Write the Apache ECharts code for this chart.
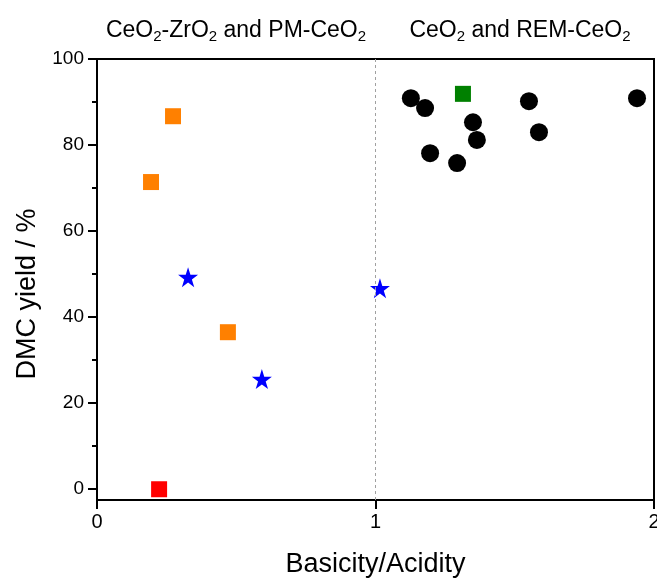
<!DOCTYPE html>
<html>
<head>
<meta charset="utf-8">
<script src="https://cdn.jsdelivr.net/npm/echarts@6/dist/echarts.min.js"></script>
<style>
  html, body { margin: 0; padding: 0; background: #fff; }
  #chart { width: 657px; height: 579px; }
</style>
</head>
<body>
<div id="chart"></div>
<script>
// Basicity/Acidity ratio (x) vs DMC yield in % (y), one array pair per catalyst group
const ceZrX = [0.273, 0.194, 0.470];
const ceZrY = [86.7, 71.4, 36.5];
const ceZrRefX = [0.223];
const ceZrRefY = [0.0];
const pmX = [0.327, 0.592, 1.016];
const pmY = [49.3, 25.6, 46.7];
const ceO2X = [1.314];
const ceO2Y = [91.9];
const remX = [1.127, 1.178, 1.196, 1.293, 1.350, 1.364, 1.551, 1.587, 1.939];
const remY = [90.9, 88.6, 78.1, 75.8, 85.3, 81.2, 90.2, 83.0, 90.9];

const xTicks = [0, 1, 2];
const yMajorTicks = [0, 20, 40, 60, 80, 100];
const yMinorTicks = [10, 30, 50, 70, 90];

const FONT = '"Liberation Sans", Arial, sans-serif';
const STAR = 'path://M50,0 L61.8,36.2 L100,36.2 L69.1,58.8 L80.9,95.1 L50,72.7 L19.1,95.1 L30.9,58.8 L0,36.2 L38.2,36.2 Z';

function pairs(xs, ys) { return xs.map((x, i) => [x, ys[i]]); }

const chart = echarts.init(document.getElementById('chart'), null, { renderer: 'canvas' });

const subRich = {
  n: { fontSize: 23, fontFamily: FONT, color: '#000', lineHeight: 26 },
  s: { fontSize: 15, fontFamily: FONT, color: '#000', lineHeight: 4, verticalAlign: 'bottom' }
};

chart.setOption({
  animation: false,
  backgroundColor: '#fff',
  grid: {
    left: 97, right: 3, top: 59, bottom: 79,
    containLabel: false, outerBoundsMode: 'none',
    show: true, borderColor: '#000', borderWidth: 2, backgroundColor: 'transparent'
  },
  xAxis: {
    type: 'value', min: 0, max: 2, interval: 1,
    customValues: xTicks,
    name: 'Basicity/Acidity', nameLocation: 'middle', nameGap: 51,
    nameTextStyle: { fontSize: 27, fontFamily: FONT, color: '#000' },
    axisLine: { show: true, onZero: false, lineStyle: { color: '#000', width: 2 } },
    axisTick: { show: true, inside: false, length: 9, lineStyle: { color: '#000', width: 2 } },
    axisLabel: { fontSize: 20, fontFamily: FONT, color: '#000', margin: 12 },
    splitLine: { show: false }
  },
  yAxis: [
    {
      type: 'value', min: -2.5, max: 100,
      axisLine: { show: true, onZero: false, lineStyle: { color: '#000', width: 2 } },
      axisTick: { show: true, inside: false, length: 9, customValues: yMajorTicks, lineStyle: { color: '#000', width: 2 } },
      axisLabel: { fontSize: 19, fontFamily: FONT, color: '#000', margin: 13, customValues: yMajorTicks },
      splitLine: { show: false }
    },
    {
      type: 'value', min: -2.5, max: 100, position: 'left',
      axisLine: { show: false },
      axisTick: { show: true, inside: false, length: 5, customValues: yMinorTicks, lineStyle: { color: '#000', width: 2 } },
      axisLabel: { show: false },
      splitLine: { show: false }
    }
  ],
  graphic: [
    {
      type: 'text',
      style: {
        x: 236, y: 31, align: 'center', verticalAlign: 'middle',
        text: '{n|CeO}{s|2}{n|-ZrO}{s|2}{n| and PM-CeO}{s|2}', rich: subRich
      }
    },
    {
      type: 'text',
      style: {
        x: 520, y: 31, align: 'center', verticalAlign: 'middle',
        text: '{n|CeO}{s|2}{n| and REM-CeO}{s|2}', rich: subRich
      }
    },
    {
      type: 'text', x: 28, y: 294, rotation: Math.PI / 2,
      style: {
        text: 'DMC yield / %', align: 'center', verticalAlign: 'middle',
        fontSize: 27, fontFamily: FONT, fill: '#000'
      }
    }
  ],
  series: [
    {
      type: 'scatter', name: 'CeO2-ZrO2', symbol: 'rect', symbolSize: 16,
      itemStyle: { color: '#FF8000', opacity: 1 }, data: pairs(ceZrX, ceZrY),
      markLine: {
        silent: true, symbol: 'none', label: { show: false },
        lineStyle: { color: '#a0a0a0', type: [3, 3], width: 1 },
        data: [{ xAxis: 1 }]
      }
    },
    {
      type: 'scatter', name: 'ZrO2', symbol: 'rect', symbolSize: 16,
      itemStyle: { color: '#FF0000', opacity: 1 }, data: pairs(ceZrRefX, ceZrRefY)
    },
    {
      type: 'scatter', name: 'PM-CeO2', symbol: STAR, symbolSize: 20,
      itemStyle: { color: '#0000FF', opacity: 1 }, data: pairs(pmX, pmY)
    },
    {
      type: 'scatter', name: 'CeO2', symbol: 'rect', symbolSize: 16,
      itemStyle: { color: '#008000', opacity: 1 }, data: pairs(ceO2X, ceO2Y)
    },
    {
      type: 'scatter', name: 'REM-CeO2', symbol: 'circle', symbolSize: 18,
      itemStyle: { color: '#000000', opacity: 1 }, data: pairs(remX, remY)
    }
  ]
});
</script>
</body>
</html>
